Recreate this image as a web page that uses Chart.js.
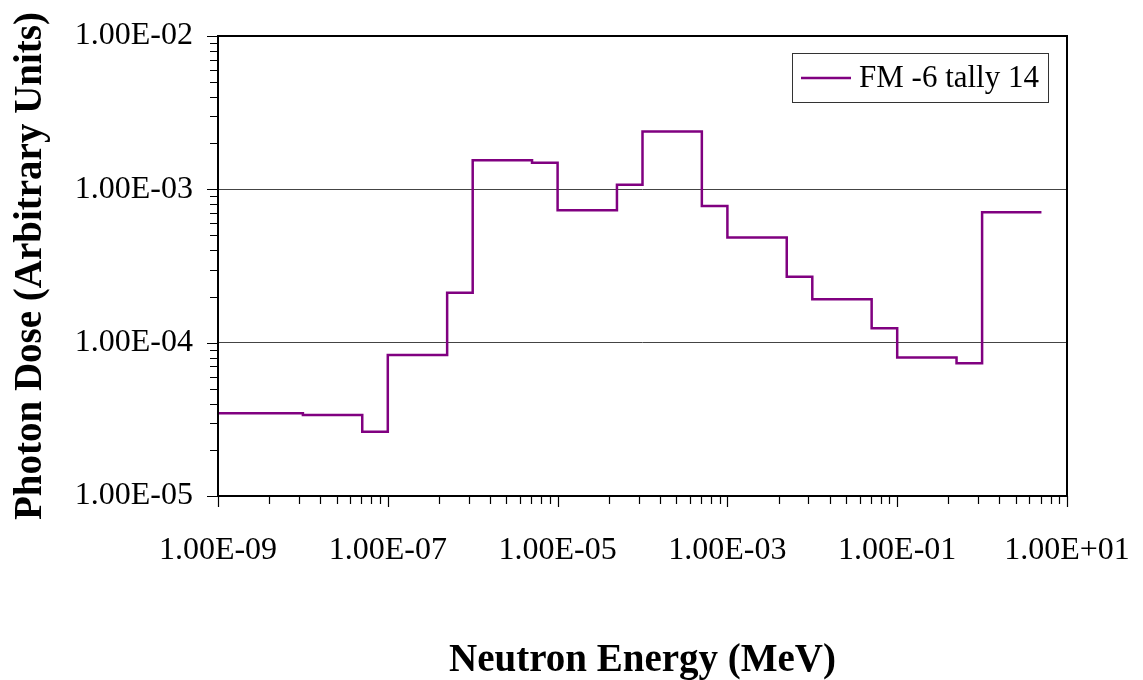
<!DOCTYPE html>
<html>
<head>
<meta charset="utf-8">
<title>Photon Dose vs Neutron Energy</title>
<script src="https://cdn.jsdelivr.net/npm/chart.js@4.4.1/dist/chart.umd.min.js"></script>
<style>
  html, body { margin: 0; padding: 0; background: #fff; }
  #wrap { width: 1143px; height: 680px; }
</style>
</head>
<body>
<div id="wrap"><canvas id="chart" width="1143" height="680"></canvas></div>
<script>
// bin edges (MeV) and the tally value for each bin
var energyEdges = [1e-9, 1e-8, 5e-8, 1e-7, 5e-7, 1e-6, 5e-6, 1e-5, 5e-5, 1e-4,
                   5e-4, 1e-3, 5e-3, 1e-2, 5e-2, 1e-1, 5e-1, 1, 5];
var doseValues = [3.46e-5, 3.37e-5, 2.62e-5, 8.3e-5, 2.12e-4, 1.55e-3, 1.49e-3, 7.3e-4, 1.07e-3,
                  2.38e-3, 7.8e-4, 4.86e-4, 2.69e-4, 1.92e-4, 1.24e-4, 8.0e-5, 7.33e-5, 7.08e-4];
var seriesName = "FM -6 tally 14";

// labelled ticks
var xTickValues = [1e-9, 1e-7, 1e-5, 1e-3, 1e-1, 1e1];
var yTickValues = [1e-5, 1e-4, 1e-3, 1e-2];

// minor tick marks (excel style)
var xMinorTicks = [];
for (var j = 0; j < 5; j++) {
    for (var k = 2; k <= 9; k++) xMinorTicks.push(k * k * Math.pow(10, -9 + 2 * j));
}
var yMinorTicks = [];
for (var d = -5; d < -2; d++) {
    for (var k = 2; k <= 9; k++) yMinorTicks.push(k * Math.pow(10, d));
}

// histogram points: left edge of every bin, plus the last right edge
var points = doseValues.map(function (v, i) { return {x: energyEdges[i], y: v}; });
points.push({x: energyEdges[energyEdges.length - 1], y: doseValues[doseValues.length - 1]});

function sciLabel(v) {
    var parts = Number(v).toExponential(2).split('e');
    var ex = parseInt(parts[1], 10);
    var sign = ex < 0 ? '-' : '+';
    var digits = String(Math.abs(ex));
    if (digits.length < 2) digits = '0' + digits;
    return parts[0] + 'E' + sign + digits;
}

var serif = "'Liberation Serif', 'Times New Roman', serif";

var frame = {
    id: 'frame',
    afterDraw: function (chart) {
        var ctx = chart.ctx, a = chart.chartArea;
        var xs = chart.scales.x, ys = chart.scales.y;
        ctx.save();
        ctx.strokeStyle = '#000';
        ctx.lineWidth = 1.2;
        ctx.beginPath();
        yMinorTicks.forEach(function (v) {
            var p = Math.round(ys.getPixelForValue(v)) + 0.5;
            ctx.moveTo(a.left - 8, p); ctx.lineTo(a.left, p);
        });
        yTickValues.forEach(function (v) {
            var p = Math.round(ys.getPixelForValue(v)) + 0.5;
            ctx.moveTo(a.left - 11, p); ctx.lineTo(a.left, p);
        });
        xMinorTicks.forEach(function (v) {
            var p = Math.round(xs.getPixelForValue(v)) + 0.5;
            ctx.moveTo(p, a.bottom); ctx.lineTo(p, a.bottom + 8);
        });
        xTickValues.forEach(function (v) {
            var p = Math.round(xs.getPixelForValue(v)) + 0.5;
            ctx.moveTo(p, a.bottom); ctx.lineTo(p, a.bottom + 11);
        });
        ctx.stroke();

        // plot box
        ctx.lineWidth = 2;
        ctx.strokeRect(a.left, a.top, a.right - a.left, a.bottom - a.top);

        // legend box
        var bw = 256, bh = 49;
        var bx = a.right - 19 - bw, by = a.top + 17;
        ctx.fillStyle = '#fff';
        ctx.fillRect(bx, by, bw, bh);
        ctx.lineWidth = 1;
        ctx.strokeStyle = '#333';
        ctx.strokeRect(bx + 0.5, by + 0.5, bw, bh);
        ctx.strokeStyle = '#800080';
        ctx.lineWidth = 2.5;
        ctx.beginPath();
        ctx.moveTo(bx + 9, by + 25); ctx.lineTo(bx + 59, by + 25);
        ctx.stroke();
        ctx.fillStyle = '#000';
        ctx.font = '31px ' + serif;
        ctx.textBaseline = 'middle';
        ctx.textAlign = 'left';
        ctx.fillText(chart.data.datasets[0].label, bx + 67, by + 26);
        ctx.restore();
    }
};

var chart = new Chart(document.getElementById('chart'), {
    type: 'scatter',
    data: {
        datasets: [{
            label: seriesName,
            data: points,
            showLine: true,
            stepped: 'before',
            borderColor: '#800080',
            borderWidth: 2.5,
            pointRadius: 0,
            fill: false
        }]
    },
    options: {
        responsive: false,
        animation: false,
        layout: {padding: {left: 0, top: 36, right: 76, bottom: 0}},
        plugins: {legend: {display: false}, tooltip: {enabled: false}},
        scales: {
            x: {
                type: 'logarithmic',
                position: 'bottom',
                min: 1e-9,
                max: 10,
                afterBuildTicks: function (s) {
                    s.ticks = xTickValues.map(function (v) { return {value: v}; });
                },
                afterFit: function (s) {
                    s.height = 184;
                    s.paddingLeft = 0; s.paddingRight = 0;
                },
                ticks: {
                    callback: function (v) { return sciLabel(v); },
                    font: {family: serif, size: 32},
                    color: '#000',
                    padding: 35,
                    maxRotation: 0,
                    autoSkip: false
                },
                grid: {display: false, drawTicks: false},
                border: {display: false},
                title: {
                    display: true,
                    text: 'Neutron Energy (MeV)',
                    color: '#000',
                    font: {family: serif, size: 39, weight: 'bold', lineHeight: 1},
                    padding: {top: 0, bottom: 0}
                }
            },
            y: {
                type: 'logarithmic',
                min: 1e-5,
                max: 1e-2,
                afterBuildTicks: function (s) {
                    s.ticks = yTickValues.map(function (v) { return {value: v}; });
                },
                afterFit: function (s) {
                    s.width = 218;
                    s.paddingTop = 0; s.paddingBottom = 0;
                },
                ticks: {
                    callback: function (v) { return sciLabel(v); },
                    font: {family: serif, size: 32},
                    color: '#000',
                    padding: 25
                },
                grid: {color: '#444', lineWidth: 1, drawTicks: false},
                border: {display: false},
                title: {
                    display: true,
                    text: 'Photon Dose (Arbitrary Units)',
                    color: '#000',
                    font: {family: serif, size: 39, weight: 'bold', lineHeight: 1},
                    padding: {top: 11, bottom: 0}
                }
            }
        }
    },
    plugins: [frame]
});
</script>
</body>
</html>
